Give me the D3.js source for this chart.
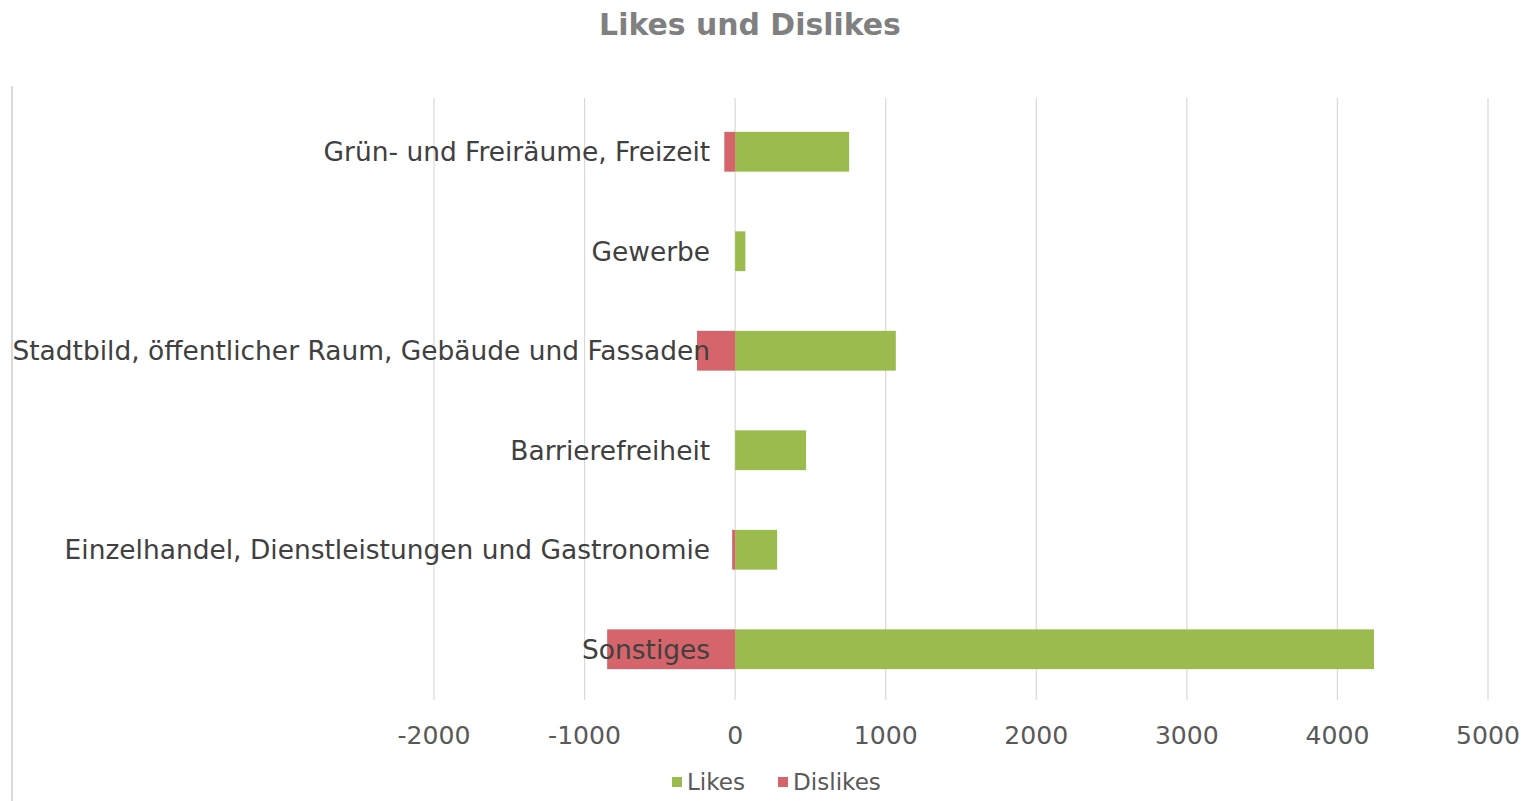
<!DOCTYPE html>
<html>
<head>
<meta charset="utf-8">
<script src="https://cdn.jsdelivr.net/npm/d3@7"></script>
<style>
  html, body { margin: 0; padding: 0; background: #fff; }
  svg { display: block; font-family: "DejaVu Sans", "Lato", sans-serif; }
</style>
</head>
<body>
<svg id="chart" width="1528" height="801"></svg>
<script>
const categories = [
  "Grün- und Freiräume, Freizeit",
  "Gewerbe",
  "Stadtbild, öffentlicher Raum, Gebäude und Fassaden",
  "Barrierefreiheit",
  "Einzelhandel, Dienstleistungen und Gastronomie",
  "Sonstiges"
];
const likes    = [757, 68, 1067, 471, 279, 4243];
const dislikes = [-72, 0, -253, 0, -20, -850];
const tickValues = [-2000, -1000, 0, 1000, 2000, 3000, 4000, 5000];
const seriesNames = ["Likes", "Dislikes"];
const seriesColors = ["#9bbb4f", "#d5656a"];
const title = "Likes und Dislikes";

const svg = d3.select("#chart");

const x = d3.scaleLinear().domain([-2000, 5000]).range([434, 1488]);
const y = d3.scaleBand().domain(categories).range([102, 699]).paddingInner(0.6).paddingOuter(0.3);

// fit a text group's font-size so its widest text spans targetW
function fit(g, base, targetW) {
  let maxW = 0;
  g.selectAll("text").each(function() { maxW = Math.max(maxW, this.getComputedTextLength()); });
  g.attr("font-size", base * targetW / maxW);
}

// chart border remnant on left
svg.append("line").attr("x1", 12).attr("x2", 12).attr("y1", 86).attr("y2", 801)
  .attr("stroke", "#d9d9d9").attr("stroke-width", 2);

// gridlines
svg.append("g").selectAll("line").data(tickValues).join("line")
  .attr("x1", d => x(d)).attr("x2", d => x(d))
  .attr("y1", 98).attr("y2", 700)
  .attr("stroke", "#d9d9d9").attr("stroke-width", 1.2);

// bars
const rows = categories.map((c, i) => ({c, like: likes[i], dislike: dislikes[i]}));
svg.append("g").selectAll("rect.like").data(rows).join("rect")
  .attr("class", "like")
  .attr("x", d => x(0)).attr("width", d => x(d.like) - x(0))
  .attr("y", d => y(d.c)).attr("height", y.bandwidth())
  .attr("fill", seriesColors[0]);
svg.append("g").selectAll("rect.dislike").data(rows.filter(d => d.dislike < 0)).join("rect")
  .attr("class", "dislike")
  .attr("x", d => x(d.dislike)).attr("width", d => x(0) - x(d.dislike))
  .attr("y", d => y(d.c)).attr("height", y.bandwidth())
  .attr("fill", seriesColors[1]);

// category labels
const labG = svg.append("g").attr("font-size", 24).attr("fill", "#404040");
labG.selectAll("text").data(categories).join("text")
  .attr("x", x(0) - 25)
  .attr("y", d => y(d) + y.bandwidth() / 2)
  .attr("dy", "0.36em")
  .attr("text-anchor", "end")
  .text(d => d);
fit(labG, 24, 698);

// x axis tick labels
const tickG = svg.append("g").attr("font-size", 22).attr("fill", "#595959");
tickG.selectAll("text").data(tickValues).join("text")
  .attr("x", d => x(d)).attr("y", 735).attr("dy", "0.36em")
  .attr("text-anchor", "middle")
  .text(d => d);
fit(tickG, 22, 73);

// title
const titleG = svg.append("g").attr("font-size", 30).attr("font-weight", "bold").attr("fill", "#808080");
titleG.append("text").attr("x", 750).attr("y", 24).attr("dy", "0.36em")
  .attr("text-anchor", "middle").text(title);
fit(titleG, 30, 302);

// legend
const legend = svg.append("g").attr("font-size", 22).attr("fill", "#595959");
const legX = [672, 778];
seriesNames.forEach((n, i) => {
  legend.append("rect").attr("x", legX[i]).attr("y", 777).attr("width", 10).attr("height", 10)
    .attr("fill", seriesColors[i]);
  legend.append("text").attr("x", legX[i] + 15).attr("y", 782).attr("dy", "0.36em").text(n);
});
fit(legend, 22, 88);
</script>
</body>
</html>
